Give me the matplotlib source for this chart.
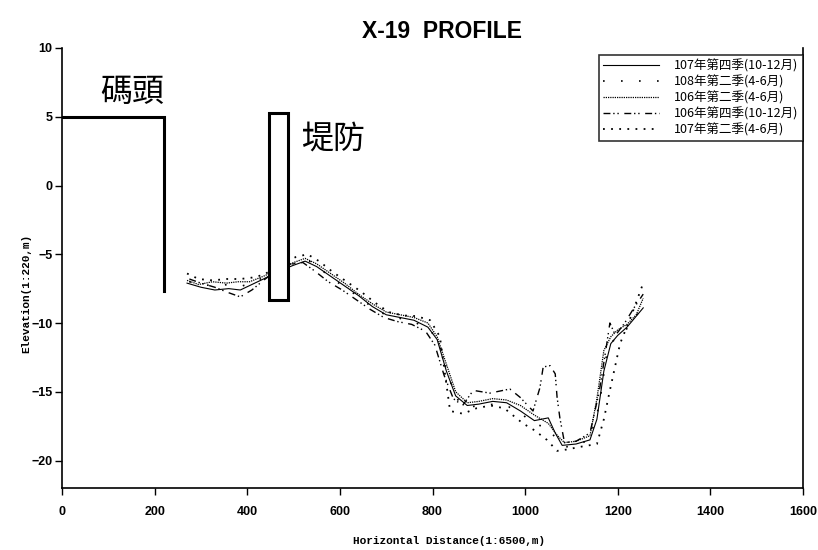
import matplotlib
matplotlib.use("Agg")
import matplotlib.pyplot as plt
from matplotlib.patches import Rectangle

# ---------------- data ----------------
title = "X-19  PROFILE"
xlabel = "Horizontal Distance(1:6500,m)"
ylabel = "Elevation(1:220,m)"

labels = ["107年第四季(10-12月)", "108年第二季(4-6月)", "106年第二季(4-6月)",
          "106年第四季(10-12月)", "107年第二季(4-6月)"]

x_107q4 = [270, 300, 330, 360, 385, 410, 435, 470, 500, 525, 550, 580, 610, 640, 670, 700, 730,
           760, 790, 810, 830, 850, 875, 900, 930, 960, 990, 1020, 1050, 1065, 1080, 1110, 1140,
           1155, 1170, 1185, 1200, 1220, 1240, 1255]
y_107q4 = [-7.1, -7.4, -7.6, -7.5, -7.6, -7.2, -6.8, -6.2, -5.8, -5.5, -5.9, -6.6, -7.3, -8.0,
           -8.8, -9.4, -9.6, -9.8, -10.3, -11.2, -13.5, -15.3, -16.0, -15.9, -15.7, -15.8, -16.4,
           -17.1, -16.9, -18.0, -18.9, -18.8, -18.5, -17.0, -13.5, -11.5, -10.9, -10.3, -9.5, -8.9]

x_108q2 = [275, 300, 330, 360, 390, 415, 435, 480, 505, 530, 555, 585, 615, 645, 675, 705, 735,
           765, 795, 815, 835, 855, 880, 905, 935, 965, 995, 1025, 1050, 1070, 1090, 1115, 1140,
           1160, 1175, 1190, 1210, 1230, 1245, 1255]
y_108q2 = [-7.0, -7.2, -7.3, -7.2, -7.3, -7.0, -6.7, -6.0, -5.6, -5.4, -6.0, -6.8, -7.5, -8.2,
           -9.0, -9.5, -9.7, -10.0, -10.5, -11.5, -14.0, -15.6, -16.1, -16.0, -15.9, -16.1, -16.7,
           -17.4, -17.6, -18.6, -19.0, -18.9, -18.4, -16.0, -12.5, -11.3, -10.8, -10.0, -9.2, -8.4]

x_106q2 = [270, 295, 325, 355, 380, 405, 435, 475, 500, 525, 550, 580, 610, 640, 670, 700, 730,
           760, 790, 810, 830, 850, 875, 900, 930, 960, 990, 1020, 1050, 1070, 1085, 1110, 1140,
           1155, 1170, 1185, 1200, 1220, 1240, 1255]
y_106q2 = [-6.9, -7.2, -7.0, -7.1, -7.0, -7.0, -6.6, -6.0, -5.6, -5.3, -5.7, -6.4, -7.1, -7.9,
           -8.6, -9.2, -9.4, -9.6, -10.0, -11.0, -13.0, -15.0, -15.8, -15.7, -15.5, -15.6, -16.0,
           -16.7, -17.3, -18.2, -18.7, -18.6, -18.2, -15.5, -12.0, -11.0, -10.5, -10.1, -9.4, -8.2]

x_106q4 = [275, 300, 330, 360, 385, 410, 435, 470, 495, 520, 545, 575, 605, 635, 665, 695, 725,
           755, 785, 805, 825, 845, 865, 888, 924, 967, 989, 1017, 1032, 1039, 1054, 1065, 1069,
           1075, 1085, 1110, 1140, 1160, 1175, 1183, 1195, 1215, 1235, 1255]
y_106q4 = [-6.8, -7.1, -7.4, -7.8, -8.1, -7.6, -6.9, -6.0, -5.7, -5.6, -6.2, -7.0, -7.6, -8.3,
           -9.0, -9.6, -9.9, -10.1, -10.6, -11.6, -13.8, -15.5, -16.0, -14.9, -15.1, -14.8, -15.4,
           -16.4, -14.7, -13.2, -13.1, -13.7, -15.4, -16.9, -18.7, -18.6, -18.0, -15.0, -11.8,
           -10.0, -10.9, -10.0, -8.9, -7.9]

x_107q2 = [270, 295, 325, 355, 385, 410, 435, 480, 505, 530, 555, 585, 615, 645, 675, 705, 736,
           765, 795, 816, 838, 866, 895, 925, 955, 995, 1020, 1047, 1069, 1090, 1120, 1155, 1170,
           1183, 1205, 1230, 1255]
y_107q2 = [-6.4, -6.8, -6.9, -6.8, -6.8, -6.7, -6.5, -5.6, -5.2, -5.0, -5.5, -6.3, -7.0, -7.7,
           -8.5, -9.2, -9.45, -9.5, -9.8, -11.0, -16.4, -16.6, -16.2, -16.0, -16.2, -17.3, -17.8,
           -18.5, -19.3, -19.2, -19.0, -18.8, -17.0, -14.9, -11.5, -9.4, -7.1]

series_x = [x_107q4, x_108q2, x_106q2, x_106q4, x_107q2]
series_y = [y_107q4, y_108q2, y_106q2, y_106q4, y_107q2]

# structures
wharf_x = [0, 220, 220]
wharf_y = [5, 5, -7.7]
wharf_label = "碼頭"
wharf_label_pos = (151, 6.8)
dike_left, dike_right, dike_top, dike_bottom = 447, 488, 5.3, -8.3
dike_label = "堤防"
dike_label_pos = (585, 3.45)

xticks = [0, 200, 400, 600, 800, 1000, 1200, 1400, 1600]
yticks = [10, 5, 0, -5, -10, -15, -20]

# ---------------- plot ----------------
W, H = 818, 550
fig = plt.figure(figsize=(W / 100, H / 100), dpi=100)
ax = fig.add_axes([62 / W, 1 - 488 / H, (803 - 62) / W, (488 - 48) / H])

styles = ["-", (0, (1, 9.8)), (0, (1, 0.8)), (0, (5, 2, 1, 2, 1, 4)), (0, (1, 3.5))]
widths = [0.8, 1.2, 0.9, 1.0, 1.3]
for xs, ys, ls, lw, lab in zip(series_x, series_y, styles, widths, labels):
    ax.plot(xs, ys, color="black", linestyle=ls, linewidth=lw, label=lab, zorder=2)

ax.plot(wharf_x, wharf_y, color="black", linewidth=2.2, solid_joinstyle="miter", zorder=3)
ax.add_patch(Rectangle((dike_left, dike_bottom), dike_right - dike_left, dike_top - dike_bottom,
                       facecolor="white", edgecolor="black", linewidth=2.2, zorder=4))

cjk = ["Noto Sans CJK TC", "DejaVu Sans"]
ax.text(*wharf_label_pos, wharf_label, fontsize=23, family=cjk, ha="center", va="center")
ax.text(*dike_label_pos, dike_label, fontsize=23, family=cjk, ha="center", va="center")

ax.set_xlim(0, 1600)
ax.set_ylim(-22, 10)
ax.set_xticks(xticks)
ax.set_yticks(yticks)
for lab in ax.get_xticklabels() + ax.get_yticklabels():
    lab.set_fontfamily("Liberation Sans")
    lab.set_fontweight("bold")
    lab.set_fontsize(9)
ax.tick_params(direction="out", length=5, width=1)
ax.tick_params(axis="x", pad=8)
ax.tick_params(axis="y", pad=2)
ax.spines["top"].set_visible(False)
for s in ["left", "bottom", "right"]:
    ax.spines[s].set_linewidth(1.2)

fig.text(449 / W, 1 - 541 / H, xlabel, fontfamily="Liberation Mono", fontweight="bold",
         fontsize=8, ha="center", va="center")
fig.text(26 / W, 1 - 293 / H, ylabel, fontfamily="Liberation Mono", fontweight="bold",
         fontsize=8, ha="center", va="center", rotation=90)
fig.text(442 / W, 1 - 32 / H, title, fontfamily="Liberation Sans", fontweight="bold",
         fontsize=16.5, ha="center", va="center")

leg = ax.legend(loc="upper right", bbox_to_anchor=(1.0, 0.985), borderaxespad=0,
                prop={"family": cjk, "size": 9}, handlelength=4.5, frameon=True,
                fancybox=False, edgecolor="black", labelspacing=0.22, borderpad=0.35,
                handletextpad=1.2)
leg.get_frame().set_linewidth(1.2)

fig.savefig("out.png", dpi=100)
